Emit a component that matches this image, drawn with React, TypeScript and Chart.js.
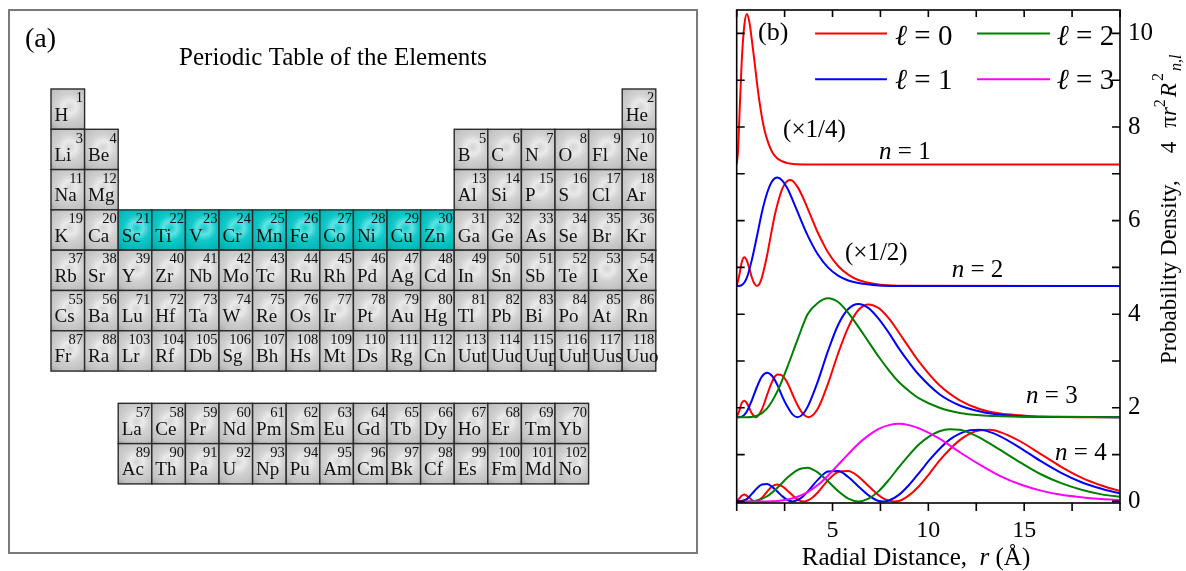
import React, { useEffect, useRef } from 'react';
import { Chart, registerables } from 'chart.js';

Chart.register(...registerables);

const SERIF = '"Liberation Serif", "Times New Roman", serif';

// ---------------- Periodic table (panel a) ----------------
const period1 = ['H', 'He'];
const period2 = ['Li', 'Be', 'B', 'C', 'N', 'O', 'Fl', 'Ne'];
const period3 = ['Na', 'Mg', 'Al', 'Si', 'P', 'S', 'Cl', 'Ar'];
const period4 = ['K', 'Ca', 'Sc', 'Ti', 'V', 'Cr', 'Mn', 'Fe', 'Co', 'Ni', 'Cu', 'Zn', 'Ga', 'Ge', 'As', 'Se', 'Br', 'Kr'];
const period5 = ['Rb', 'Sr', 'Y', 'Zr', 'Nb', 'Mo', 'Tc', 'Ru', 'Rh', 'Pd', 'Ag', 'Cd', 'In', 'Sn', 'Sb', 'Te', 'I', 'Xe'];
const period6 = ['Cs', 'Ba', 'La', 'Ce', 'Pr', 'Nd', 'Pm', 'Sm', 'Eu', 'Gd', 'Tb', 'Dy', 'Ho', 'Er', 'Tm', 'Yb', 'Lu', 'Hf', 'Ta', 'W', 'Re', 'Os', 'Ir', 'Pt', 'Au', 'Hg', 'Tl', 'Pb', 'Bi', 'Po', 'At', 'Rn'];
const period7 = ['Fr', 'Ra', 'Ac', 'Th', 'Pa', 'U', 'Np', 'Pu', 'Am', 'Cm', 'Bk', 'Cf', 'Es', 'Fm', 'Md', 'No', 'Lr', 'Rf', 'Db', 'Sg', 'Bh', 'Hs', 'Mt', 'Ds', 'Rg', 'Cn', 'Uut', 'Uuq', 'Uup', 'Uuh', 'Uus', 'Uuo'];
const periods = [period1, period2, period3, period4, period5, period6, period7];
const highlightedNumbers = [21, 22, 23, 24, 25, 26, 27, 28, 29, 30];
const tableTitle = 'Periodic Table of the Elements';

// ---------------- Radial densities (panel b), r in Å ----------------
// n = 1 (plotted x1/4)
const r1s = [0, 0.07, 0.13, 0.26, 0.4, 0.53, 0.66, 0.79, 0.93, 1.06, 1.19, 1.32, 1.45, 1.59, 1.85, 2.12, 2.65, 3.17, 4.0, 20];
const p1s = [0, 1.16, 3.6, 8.74, 11.92, 12.86, 12.18, 10.64, 8.79, 6.96, 5.34, 4.0, 2.94, 2.12, 1.06, 0.51, 0.11, 0.02, 0, 0];
// n = 2 (plotted x1/2)
const r2s = [0, 0.13, 0.26, 0.4, 0.53, 0.66, 0.79, 0.93, 1.06, 1.19, 1.32, 1.45, 1.59, 1.72, 1.85, 1.98, 2.12, 2.38, 2.77, 2.91, 3.17, 3.44, 3.7, 3.97, 4.23, 4.5, 4.76, 5.29, 5.82, 6.35, 7.41, 8.46, 20];
const p2s = [0, 0.44, 1.01, 1.23, 1.09, 0.75, 0.37, 0.1, 0, 0.1, 0.38, 0.81, 1.33, 1.9, 2.47, 3.01, 3.48, 4.17, 4.54, 4.5, 4.24, 3.82, 3.32, 2.79, 2.29, 1.84, 1.45, 0.86, 0.49, 0.26, 0.07, 0.02, 0];
const r2p = [0, 0.26, 0.53, 0.79, 1.06, 1.32, 1.59, 1.85, 2.12, 2.38, 2.65, 3.17, 3.7, 4.23, 4.76, 5.29, 5.82, 6.35, 7.41, 8.46, 20];
const p2p = [0, 0.04, 0.36, 1.12, 2.14, 3.17, 3.99, 4.48, 4.64, 4.51, 4.17, 3.18, 2.17, 1.36, 0.8, 0.45, 0.24, 0.13, 0.03, 0.01, 0];
// n = 3
const r3s = [0, 0.13, 0.26, 0.4, 0.53, 0.66, 0.79, 1.01, 1.32, 1.59, 1.85, 2.12, 2.38, 2.65, 2.91, 3.17, 3.44, 3.75, 4.23, 4.76, 5.29, 5.82, 6.35, 6.88, 7.41, 7.94, 8.46, 8.99, 9.52, 10.58, 11.64, 12.7, 13.75, 14.81, 15.87, 20];
const p3s = [0, 0.13, 0.3, 0.35, 0.3, 0.19, 0.08, 0, 0.17, 0.48, 0.76, 0.91, 0.89, 0.73, 0.49, 0.26, 0.08, 0, 0.18, 0.71, 1.36, 1.92, 2.29, 2.41, 2.33, 2.11, 1.81, 1.49, 1.18, 0.68, 0.36, 0.17, 0.08, 0.04, 0.01, 0];
const r3p = [0, 0.26, 0.53, 0.79, 1.06, 1.32, 1.59, 1.85, 2.12, 2.38, 2.65, 2.91, 3.17, 3.44, 3.7, 4.23, 4.76, 5.29, 5.82, 6.35, 6.88, 7.41, 7.94, 8.46, 8.99, 9.52, 10.58, 11.64, 12.7, 13.75, 14.81, 15.87, 20];
const p3p = [0, 0.01, 0.12, 0.36, 0.65, 0.87, 0.95, 0.88, 0.69, 0.44, 0.22, 0.06, 0, 0.06, 0.22, 0.76, 1.41, 1.97, 2.31, 2.42, 2.33, 2.1, 1.8, 1.47, 1.17, 0.9, 0.49, 0.25, 0.12, 0.05, 0.02, 0.01, 0];
const r3d = [0, 0.53, 1.06, 1.59, 2.12, 2.65, 3.17, 3.7, 4.23, 4.76, 5.29, 5.82, 6.35, 6.88, 7.41, 7.94, 8.46, 8.99, 9.52, 10.58, 11.64, 12.7, 13.75, 14.81, 20];
const p3d = [0, 0, 0.03, 0.19, 0.55, 1.08, 1.65, 2.2, 2.44, 2.54, 2.46, 2.23, 1.93, 1.61, 1.29, 1.0, 0.75, 0.56, 0.4, 0.2, 0.09, 0.04, 0.02, 0.01, 0];
// n = 4
const r4s = [0, 0.13, 0.26, 0.4, 0.53, 0.66, 0.79, 0.99, 1.32, 1.59, 1.85, 2.12, 2.38, 2.65, 2.91, 3.17, 3.5, 3.7, 3.97, 4.23, 4.76, 5.29, 5.82, 6.35, 6.88, 7.41, 7.67, 7.94, 8.21, 8.46, 8.99, 9.52, 10.05, 10.58, 11.11, 11.64, 12.17, 12.7, 13.23, 13.75, 14.28, 14.81, 15.87, 16.93, 17.99, 19.04, 20];
const p4s = [0, 0.06, 0.12, 0.15, 0.12, 0.08, 0.03, 0, 0.08, 0.21, 0.32, 0.36, 0.32, 0.23, 0.13, 0.04, 0, 0.02, 0.09, 0.19, 0.45, 0.63, 0.65, 0.53, 0.33, 0.13, 0.06, 0.02, 0, 0.01, 0.13, 0.33, 0.59, 0.87, 1.11, 1.31, 1.45, 1.52, 1.53, 1.48, 1.39, 1.28, 1.01, 0.74, 0.51, 0.34, 0.22];
const r4p = [0, 0.26, 0.53, 0.79, 1.06, 1.32, 1.59, 1.85, 2.12, 2.38, 2.65, 2.92, 3.17, 3.44, 3.7, 4.23, 4.76, 5.29, 5.82, 6.35, 6.88, 7.41, 7.66, 7.94, 8.46, 8.99, 9.52, 10.05, 10.58, 11.11, 11.64, 12.17, 12.7, 13.23, 13.75, 14.81, 15.87, 16.93, 17.99, 19.04, 20];
const p4p = [0, 0.01, 0.05, 0.16, 0.28, 0.36, 0.37, 0.31, 0.21, 0.11, 0.03, 0, 0.03, 0.1, 0.21, 0.46, 0.64, 0.65, 0.52, 0.32, 0.13, 0.01, 0, 0.02, 0.14, 0.35, 0.61, 0.88, 1.12, 1.32, 1.45, 1.52, 1.53, 1.48, 1.39, 1.14, 0.86, 0.61, 0.41, 0.27, 0.17];
const r4d = [0, 0.53, 1.06, 1.59, 2.12, 2.65, 3.17, 3.44, 3.7, 3.97, 4.23, 4.76, 5.29, 5.82, 6.35, 6.88, 7.41, 7.94, 8.46, 8.99, 9.52, 10.05, 10.58, 11.11, 11.64, 12.17, 12.7, 13.75, 14.81, 15.87, 16.93, 17.99, 19.04, 20];
const p4d = [0, 0, 0.02, 0.11, 0.29, 0.51, 0.67, 0.71, 0.72, 0.68, 0.62, 0.43, 0.22, 0.06, 0, 0.06, 0.22, 0.46, 0.73, 0.99, 1.22, 1.39, 1.5, 1.54, 1.53, 1.46, 1.36, 1.1, 0.83, 0.58, 0.39, 0.25, 0.15, 0.1];
const r4f = [0, 1.06, 1.59, 2.12, 2.65, 3.17, 3.7, 4.23, 4.76, 5.29, 5.82, 6.35, 6.88, 7.41, 7.94, 8.46, 8.99, 9.52, 10.58, 11.64, 12.7, 13.75, 14.81, 15.87, 16.93, 17.99, 19.04, 20];
const p4f = [0, 0, 0, 0.01, 0.04, 0.1, 0.2, 0.35, 0.55, 0.78, 1.01, 1.23, 1.41, 1.55, 1.63, 1.66, 1.63, 1.56, 1.34, 1.05, 0.78, 0.54, 0.36, 0.23, 0.14, 0.09, 0.05, 0.03];

// vertical offset and display factor for each shell n = 1..4
const shellOffsets = [7.2, 4.6, 1.8, 0];
const shellFactors = [0.25, 0.5, 1, 1];
const shellFactorLabels = ['(×1/4)', '(×1/2)', '', ''];
const lColors = ['#ff0000', '#0000ff', '#008000', '#ff00ff'];
const lLabels = ['0', '1', '2', '3'];
const xTickLabels = [5, 10, 15];
const yTickLabels = [0, 2, 4, 6, 8, 10];
const xTickMarks = [0, 2.5, 5, 7.5, 10, 12.5, 15, 17.5, 20];
const yTickMarks = [0, 1, 2, 3, 4, 5, 6, 7, 8, 9, 10];

const curves = [
  { n: 1, l: 0, r: r1s, p: p1s },
  { n: 2, l: 0, r: r2s, p: p2s },
  { n: 2, l: 1, r: r2p, p: p2p },
  { n: 3, l: 0, r: r3s, p: p3s },
  { n: 3, l: 1, r: r3p, p: p3p },
  { n: 3, l: 2, r: r3d, p: p3d },
  { n: 4, l: 0, r: r4s, p: p4s },
  { n: 4, l: 1, r: r4p, p: p4p },
  { n: 4, l: 2, r: r4d, p: p4d },
  { n: 4, l: 3, r: r4f, p: p4f },
];

// ---------- helpers ----------
type Run = { t: string; italic?: boolean; size?: number; dy?: number; dx?: number };

function runFont(r: Run, base: number) {
  return `${r.italic ? 'italic ' : ''}${r.size ?? base}px ${SERIF}`;
}

function runsWidth(ctx: CanvasRenderingContext2D, runs: Run[], base: number) {
  let w = 0;
  for (const r of runs) {
    ctx.font = runFont(r, base);
    w += (r.dx ?? 0) + ctx.measureText(r.t).width;
  }
  return w;
}

function drawRuns(ctx: CanvasRenderingContext2D, runs: Run[], x: number, y: number, base: number, align: 'left' | 'center' = 'left') {
  let cx = align === 'center' ? x - runsWidth(ctx, runs, base) / 2 : x;
  ctx.textAlign = 'left';
  for (const r of runs) {
    ctx.font = runFont(r, base);
    cx += r.dx ?? 0;
    ctx.fillText(r.t, cx, y + (r.dy ?? 0));
    cx += ctx.measureText(r.t).width;
  }
}

// ---------- periodic table layout ----------
type Cell = { z: number; sym: string; cx: number; cy: number; hi: boolean };

function buildCells(): Cell[] {
  const cells: Cell[] = [];
  let z = 0;
  periods.forEach((syms, p) => {
    syms.forEach((sym, i) => {
      z += 1;
      let col = i + 1;
      let row = p;
      if (syms.length === 2) col = i === 0 ? 1 : 18;
      else if (syms.length === 8) col = i < 2 ? i + 1 : i + 11;
      else if (syms.length === 32) {
        if (i < 2) col = i + 1;
        else if (i < 16) {
          col = i + 1;
          row = p + 2.8;
        } else col = i - 13;
      }
      cells.push({ z, sym, cx: col - 0.5, cy: row + 0.5, hi: highlightedNumbers.includes(z) });
    });
  });
  return cells;
}

const cells = buildCells();

const tablePlugin = {
  id: 'tableCells',
  afterDatasetsDraw(chart: any) {
    const { ctx, chartArea: a, scales } = chart;
    const xs = scales.x;
    const ys = scales.y;
    ctx.save();
    // panel frame
    ctx.strokeStyle = '#7a7a7a';
    ctx.lineWidth = 2;
    ctx.strokeRect(a.left, a.top, a.right - a.left, a.bottom - a.top);

    ctx.fillStyle = '#000';
    ctx.textBaseline = 'alphabetic';
    ctx.font = `28px ${SERIF}`;
    ctx.textAlign = 'left';
    ctx.fillText('(a)', a.left + 16, a.top + 37);
    ctx.font = `25px ${SERIF}`;
    ctx.textAlign = 'center';
    ctx.fillText(tableTitle, a.left + 324, a.top + 55);

    for (const c of cells) {
      const x0 = xs.getPixelForValue(c.cx - 0.5);
      const x1 = xs.getPixelForValue(c.cx + 0.5);
      const y0 = ys.getPixelForValue(c.cy - 0.5);
      const y1 = ys.getPixelForValue(c.cy + 0.5);
      const w = x1 - x0;
      const h = y1 - y0;
      const gx = x0 + w * 0.55;
      const gy = y0 + h * 0.45;
      const g = ctx.createRadialGradient(gx, gy, 0, gx, gy, Math.max(w, h) * 0.75);
      if (c.hi) {
        g.addColorStop(0, '#14caca');
        g.addColorStop(0.22, '#5ee4e4');
        g.addColorStop(0.42, '#12c8c8');
        g.addColorStop(0.75, '#02b6b6');
        g.addColorStop(1, '#009292');
      } else {
        g.addColorStop(0, '#d4d4d4');
        g.addColorStop(0.22, '#eaeaea');
        g.addColorStop(0.42, '#d2d2d2');
        g.addColorStop(0.75, '#c0c0c0');
        g.addColorStop(1, '#989898');
      }
      ctx.fillStyle = g;
      ctx.fillRect(x0, y0, w, h);
      ctx.strokeStyle = '#2a2a2a';
      ctx.lineWidth = 1.4;
      ctx.strokeRect(x0, y0, w, h);

      ctx.fillStyle = '#111';
      ctx.font = `14.5px ${SERIF}`;
      ctx.textAlign = 'right';
      ctx.fillText(String(c.z), x1 - 1.5, y0 + 13.3);
      ctx.font = `19px ${SERIF}`;
      ctx.textAlign = 'left';
      ctx.fillText(c.sym, x0 + 3.5, y0 + h * 0.785);
    }
    ctx.restore();
  },
};

function tableConfig(): any {
  return {
    type: 'scatter',
    data: {
      datasets: [
        {
          data: cells.map((c) => ({ x: c.cx, y: c.cy })),
          pointRadius: 0,
          pointHoverRadius: 0,
        },
      ],
    },
    options: {
      animation: false,
      responsive: false,
      events: [],
      layout: { padding: { left: 9, right: 3, top: 10, bottom: 18 } },
      scales: {
        x: { type: 'linear', display: false, min: -1.25, max: 19.226 },
        y: { type: 'linear', display: false, reverse: true, min: -1.96, max: 11.514 },
      },
      plugins: { legend: { display: false }, tooltip: { enabled: false } },
    },
    plugins: [tablePlugin],
  };
}

// ---------- radial density chart ----------
const radialPlugin = {
  id: 'radialDecor',
  afterDraw(chart: any) {
    const { ctx, chartArea: a, scales } = chart;
    const xs = scales.x;
    const ys = scales.y;
    const px = (v: number) => xs.getPixelForValue(v);
    const py = (v: number) => ys.getPixelForValue(v);
    ctx.save();
    ctx.strokeStyle = '#000';
    ctx.lineWidth = 1.6;
    ctx.strokeRect(a.left, a.top, a.right - a.left, a.bottom - a.top);

    ctx.beginPath();
    for (const v of xTickMarks) {
      const x = px(v);
      ctx.moveTo(x, a.bottom);
      ctx.lineTo(x, a.bottom + 8);
      ctx.moveTo(x, a.top);
      ctx.lineTo(x, a.top + 7);
    }
    for (const v of yTickMarks) {
      const y = py(v);
      ctx.moveTo(a.left, y);
      ctx.lineTo(a.left + 8, y);
      ctx.moveTo(a.right, y);
      ctx.lineTo(a.right - 8, y);
    }
    ctx.stroke();

    ctx.fillStyle = '#000';
    ctx.textBaseline = 'middle';

    // panel label
    drawRuns(ctx, [{ t: '(b)' }], px(1.11), py(10.0), 26);

    // legend
    const legendPos = [
      { x0: 4.09, x1: 7.84, tx: 8.26, y: 10.0, ty: 9.748 },
      { x0: 4.09, x1: 7.84, tx: 8.26, y: 9.02, ty: 8.808 },
      { x0: 12.54, x1: 16.35, tx: 16.7, y: 10.0, ty: 9.748 },
      { x0: 12.54, x1: 16.35, tx: 16.7, y: 9.02, ty: 8.808 },
    ];
    lLabels.forEach((lab, l) => {
      const p = legendPos[l];
      ctx.strokeStyle = lColors[l];
      ctx.lineWidth = 2;
      ctx.beginPath();
      ctx.moveTo(px(p.x0), py(p.y));
      ctx.lineTo(px(p.x1), py(p.y));
      ctx.stroke();
      ctx.textBaseline = 'alphabetic';
      drawRuns(ctx, [{ t: 'ℓ', italic: true }, { t: ` = ${lab}` }], px(p.tx), py(p.ty), 29);
    });

    // shell annotations
    ctx.textBaseline = 'middle';
    const factorPos = [
      { x: 2.42, y: 7.93 },
      { x: 5.65, y: 5.3 },
    ];
    factorPos.forEach((f, i) => drawRuns(ctx, [{ t: shellFactorLabels[i] }], px(f.x), py(f.y), 25));
    const shellPos = [
      { x: 7.43, y: 7.46 },
      { x: 11.22, y: 4.93 },
      { x: 15.1, y: 2.24 },
      { x: 16.61, y: 1.03 },
    ];
    shellPos.forEach((s, i) =>
      drawRuns(ctx, [{ t: 'n', italic: true }, { t: ` = ${i + 1}` }], px(s.x), py(s.y), 25)
    );

    // axis titles
    ctx.textBaseline = 'alphabetic';
    drawRuns(ctx, [{ t: 'Radial Distance,  ' }, { t: 'r', italic: true }, { t: ' (Å)' }], 216, 565, 25, 'center');

    ctx.save();
    ctx.translate(476, 364);
    ctx.rotate(-Math.PI / 2);
    drawRuns(
      ctx,
      [
        { t: 'Probability Density,' },
        { t: '4', dx: 27 },
        { t: 'π', dx: 14 },
        { t: 'r', italic: true },
        { t: '2', size: 16, dy: -11 },
        { t: 'R', italic: true, dx: 2 },
        { t: '2', size: 16, dy: -13, dx: 2 },
        { t: 'n,l', italic: true, size: 16, dy: 5, dx: 2 },
      ],
      0,
      0,
      23
    );
    ctx.restore();
    ctx.restore();
  },
};

function radialConfig(): any {
  return {
    type: 'scatter',
    data: {
      datasets: curves.map((c) => ({
        label: `n=${c.n}, l=${c.l}`,
        data: c.r.map((r, i) => ({ x: r, y: shellOffsets[c.n - 1] + shellFactors[c.n - 1] * c.p[i] })),
        showLine: true,
        borderColor: lColors[c.l],
        backgroundColor: lColors[c.l],
        borderWidth: 2,
        pointRadius: 0,
        pointHoverRadius: 0,
        cubicInterpolationMode: 'monotone',
        fill: false,
        order: 3 - c.l,
      })),
    },
    options: {
      animation: false,
      responsive: false,
      events: [],
      layout: { padding: { left: 36.7, top: 10, right: 0, bottom: 0 } },
      scales: {
        x: {
          type: 'linear',
          position: 'bottom',
          min: 0,
          max: 20,
          afterBuildTicks: (ax: any) => {
            ax.ticks = xTickLabels.map((v) => ({ value: v }));
          },
          afterFit: (s: any) => {
            s.height = 68;
            s.paddingLeft = 0;
            s.paddingRight = 0;
          },
          grid: { display: false, drawTicks: false },
          border: { display: false },
          ticks: { color: '#000', font: { family: SERIF, size: 24 }, padding: 13, autoSkip: false, maxRotation: 0 },
        },
        y: {
          type: 'linear',
          position: 'right',
          min: -0.034,
          max: 10.5,
          afterBuildTicks: (ax: any) => {
            ax.ticks = yTickLabels.map((v) => ({ value: v }));
          },
          afterFit: (s: any) => {
            s.width = 66;
            s.paddingTop = 0;
            s.paddingBottom = 0;
          },
          grid: { display: false, drawTicks: false },
          border: { display: false },
          ticks: { color: '#000', font: { family: SERIF, size: 25 }, padding: 8, autoSkip: false },
        },
      },
      plugins: { legend: { display: false }, tooltip: { enabled: false }, title: { display: false } },
    },
    plugins: [radialPlugin],
  };
}

export default function App() {
  const tableRef = useRef<HTMLCanvasElement>(null);
  const radialRef = useRef<HTMLCanvasElement>(null);

  useEffect(() => {
    const c1 = new Chart(tableRef.current as HTMLCanvasElement, tableConfig());
    const c2 = new Chart(radialRef.current as HTMLCanvasElement, radialConfig());
    return () => {
      c1.destroy();
      c2.destroy();
    };
  }, []);

  return (
    <div style={{ position: 'absolute', left: 0, top: 0, width: 1186, height: 571, background: '#fff' }}>
      <canvas ref={tableRef} width={700} height={571} style={{ position: 'absolute', left: 0, top: 0 }} />
      <canvas ref={radialRef} width={486} height={571} style={{ position: 'absolute', left: 700, top: 0 }} />
    </div>
  );
}
